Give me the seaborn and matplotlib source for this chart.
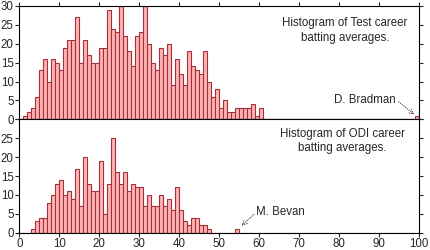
# libraries
import matplotlib
matplotlib.use("Agg")
import matplotlib.pyplot as plt
import seaborn as sns
import pandas as pd

# data: bin start -> count (1-unit bins)
test_start = 1
test_counts = [1, 2, 3, 6, 13, 16, 10, 16, 15, 13,
               19, 21, 21, 27, 15, 21, 17, 15, 15, 19,
               19, 29, 24, 23, 30, 22, 18, 14, 22, 23,
               30, 20, 15, 13, 19, 17, 20, 9, 16, 12,
               9, 18, 14, 13, 12, 18, 10, 6, 8, 3,
               5, 2, 2, 3, 3, 3, 3, 4, 1, 3]
test_outlier = [99]          # D. Bradman
test_outlier_counts = [1]

odi_start = 3
odi_counts = [1, 3, 4, 4, 8, 10, 13, 14, 10, 11,
              9, 17, 7, 20, 13, 11, 11, 19, 5, 13,
              25, 16, 13, 16, 11, 13, 12, 12, 7, 10,
              7, 7, 10, 7, 9, 6, 12, 6, 3, 2,
              4, 4, 2, 2, 1]
odi_outlier = [54]           # M. Bevan
odi_outlier_counts = [1]

x_ticks = list(range(0, 101, 10))
y_ticks_top = [0, 5, 10, 15, 20, 25, 30]
y_ticks_bottom = [0, 5, 10, 15, 20, 25]

sns.set_style("ticks")
plt.rcParams['font.family'] = ['Liberation Sans', 'DejaVu Sans']
plt.rcParams['font.size'] = 8.3

fig, (ax1, ax2) = plt.subplots(2, 1, figsize=(4.3, 2.5), dpi=100, sharex=True)
fig.subplots_adjust(left=0.045, right=0.975, top=0.976, bottom=0.069, hspace=0)

face = "#ffb4b4"
edge = "#a3303a"


def draw(ax, start, counts, extra, extra_counts):
    xs = [start + i + 0.5 for i in range(len(counts))] + [v + 0.5 for v in extra]
    ws = list(counts) + list(extra_counts)
    df = pd.DataFrame({"avg": xs, "n": ws})
    sns.histplot(data=df, x="avg", weights="n", binwidth=1, binrange=(0, 100),
                 ax=ax, color=face, edgecolor=edge, linewidth=0.8, alpha=1)
    ax.set_xlim(0, 100)
    ax.set_ylim(0, 30)
    ax.set_xlabel("")
    ax.set_ylabel("")
    for s in ax.spines.values():
        s.set_visible(True)
        s.set_linewidth(0.8)
        s.set_color("black")
    ax.tick_params(direction="out", length=3, width=0.8, pad=1, labelsize=8.3)


draw(ax1, test_start, test_counts, test_outlier, test_outlier_counts)
draw(ax2, odi_start, odi_counts, odi_outlier, odi_outlier_counts)

ax1.set_yticks(y_ticks_top)
ax1.set_xticks(x_ticks)
ax1.tick_params(top=True, right=True, bottom=True, labelbottom=False)
ax2.set_yticks(y_ticks_top)
ax2.set_yticklabels([str(t) if t in y_ticks_bottom else "" for t in y_ticks_top])
ax2.set_xticks(x_ticks)
ax2.tick_params(top=False, right=True, bottom=True, labelbottom=True)

ax1.text(81.4, 23.5, "Histogram of Test career\nbatting averages.",
         ha="center", va="center", fontsize=8.3, linespacing=1.25)
ax2.text(80.8, 24.2, "Histogram of ODI career\nbatting averages.",
         ha="center", va="center", fontsize=8.3, linespacing=1.25)

arrow = dict(arrowstyle="->", color="#333333", lw=0.6, linestyle=":",
             shrinkA=0, shrinkB=0)
ax1.annotate("", xy=(98.7, 1.3), xytext=(94.8, 4.7), arrowprops=arrow)
ax1.text(94.2, 5.1, "D. Bradman", ha="right", va="center", fontsize=8.3)
ax2.annotate("", xy=(55.6, 1.9), xytext=(58.7, 4.9), arrowprops=arrow)
ax2.text(59.3, 5.6, "M. Bevan", ha="left", va="center", fontsize=8.3)

fig.savefig("out.png", dpi=100)
